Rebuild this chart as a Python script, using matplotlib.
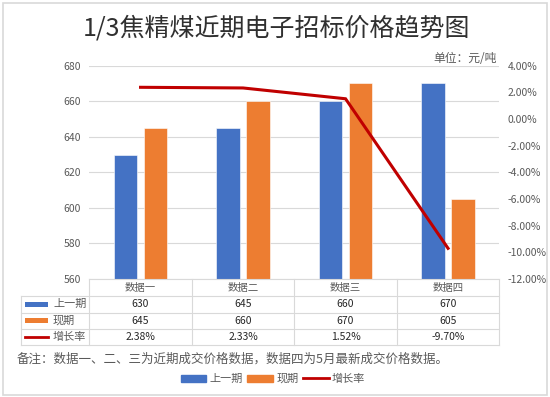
import matplotlib
matplotlib.use("Agg")
import matplotlib.pyplot as plt
import matplotlib.transforms as mtransforms
from matplotlib.lines import Line2D
from matplotlib.patches import Rectangle
from matplotlib.ticker import FuncFormatter, MultipleLocator

plt.rcParams['font.family'] = ['Noto Sans CJK SC', 'DejaVu Sans']

# ---- data ----
categories = ['数据一', '数据二', '数据三', '数据四']
prev_period = [630, 645, 660, 670]
curr_period = [645, 660, 670, 605]
growth_rate = [2.38, 2.33, 1.52, -9.70]
growth_labels = ['2.38%', '2.33%', '1.52%', '-9.70%']
series_names = ['上一期', '现期', '增长率']
title = '1/3焦精煤近期电子招标价格趋势图'
unit_text = '单位：元/吨'
note_text = '备注：数据一、二、三为近期成交价格数据，数据四为5月最新成交价格数据。'

BLUE = '#4472C4'
ORANGE = '#ED7D31'
RED = '#C00000'
GRID = '#D9D9D9'
GRAY = '#595959'

W, H = 550, 397
fig = plt.figure(figsize=(W / 100, H / 100), dpi=100)

def fx(px):
    return px / W

def fy(py):
    return 1 - py / H

ax_l, ax_r, ax_t, ax_b = 89.3, 499.3, 65.7, 279.0
ax = fig.add_axes([fx(ax_l), fy(ax_b), fx(ax_r - ax_l), (ax_b - ax_t) / H])

x = list(range(len(categories)))
bw = 0.23
off = 0.145
ax.bar([i - off for i in x], prev_period, width=bw, color=BLUE, edgecolor='white', linewidth=0.4, zorder=3)
ax.bar([i + off for i in x], curr_period, width=bw, color=ORANGE, edgecolor='white', linewidth=0.4, zorder=3)
ax.set_xlim(-0.5, len(categories) - 0.5)
ax.set_ylim(560, 680)
ax.yaxis.set_major_locator(MultipleLocator(20))
ax.grid(axis='y', color=GRID, linewidth=0.8, zorder=0)
ax.set_axisbelow(True)
ax.set_xticks([])
for s in ax.spines.values():
    s.set_visible(False)
ax.tick_params(axis='y', length=0, pad=6, labelsize=7.5, labelcolor=GRAY)

ax2 = ax.twinx()
ax2.plot(x, growth_rate, color=RED, linewidth=2.2, zorder=5, solid_joinstyle='miter')
ax2.set_ylim(-12, 4)
ax2.yaxis.set_major_locator(MultipleLocator(2))
ax2.yaxis.set_major_formatter(FuncFormatter(lambda v, p: f'{v:.2f}%'))
ax2.tick_params(axis='y', length=0, pad=6, labelsize=7.5, labelcolor=GRAY)
for s in ax2.spines.values():
    s.set_visible(False)

# ---- title & unit ----
fig.text(0.5 * (fx(86) + fx(467)), fy(28), title, ha='center', va='center', fontsize=18, color='#303030')
fig.text(fx(497), fy(59), unit_text, ha='right', va='center', fontsize=8.5, color=GRAY)

# ---- data table ----
tbl_left = 20.7
rows_y = [279.0, 296.0, 312.7, 329.0, 345.0]
lc = GRID
lw = 0.8
fig.add_artist(Line2D([fx(ax_l), fx(ax_r)], [fy(rows_y[0])] * 2, color=lc, lw=lw))
for yy in rows_y[1:]:
    fig.add_artist(Line2D([fx(tbl_left), fx(ax_r)], [fy(yy)] * 2, color=lc, lw=lw))
fig.add_artist(Line2D([fx(tbl_left)] * 2, [fy(rows_y[1]), fy(rows_y[-1])], color=lc, lw=lw))
colw = (ax_r - ax_l) / len(categories)
for k in range(len(categories) + 1):
    xx = ax_l + k * colw
    fig.add_artist(Line2D([fx(xx)] * 2, [fy(rows_y[0]), fy(rows_y[-1])], color=lc, lw=lw))

blend = mtransforms.blended_transform_factory(ax.transData, fig.transFigure)
row_c = [(rows_y[i] + rows_y[i + 1]) / 2 for i in range(4)]
for i, c in enumerate(categories):
    fig.text(i, fy(row_c[0]), c, transform=blend, ha='center', va='center', fontsize=7.5, color=GRAY)
    fig.text(i, fy(row_c[1]), str(prev_period[i]), transform=blend, ha='center', va='center', fontsize=7.5, color='#262626')
    fig.text(i, fy(row_c[2]), str(curr_period[i]), transform=blend, ha='center', va='center', fontsize=7.5, color='#262626')
    fig.text(i, fy(row_c[3]), growth_labels[i], transform=blend, ha='center', va='center', fontsize=7.5, color='#262626')

key_x0, key_x1 = 25, 47.5
fig.add_artist(Rectangle((fx(key_x0), fy(row_c[1] + 2.5)), fx(key_x1 - key_x0), 5 / H, color=BLUE, lw=0))
fig.add_artist(Rectangle((fx(key_x0), fy(row_c[2] + 2.5)), fx(key_x1 - key_x0), 5 / H, color=ORANGE, lw=0))
fig.add_artist(Line2D([fx(key_x0), fx(key_x1)], [fy(row_c[3])] * 2, color=RED, lw=2))
for r, name in zip(row_c[1:], series_names):
    fig.text(fx(53), fy(r), name, ha='left', va='center', fontsize=8, color=GRAY)

# ---- note ----
fig.text(fx(16.7), fy(359), note_text, ha='left', va='center', fontsize=9, color=GRAY)

# ---- bottom legend ----
handles = [Rectangle((0, 0), 1, 1, color=BLUE), Rectangle((0, 0), 1, 1, color=ORANGE),
           Line2D([0], [0], color=RED, lw=2)]
leg = fig.legend(handles, series_names, loc='center', bbox_to_anchor=(fx(273), fy(379)), ncol=3,
                 frameon=False, fontsize=8, handlelength=2.3, handleheight=0.6, handletextpad=0.3,
                 columnspacing=0.4, borderpad=0)
for t in leg.get_texts():
    t.set_color(GRAY)

# ---- figure border ----
fig.add_artist(Rectangle((fx(3), fy(395)), fx(544), (392) / H, fill=False, edgecolor=GRID, lw=1.2))

fig.savefig('out.png', dpi=100, facecolor='white')
